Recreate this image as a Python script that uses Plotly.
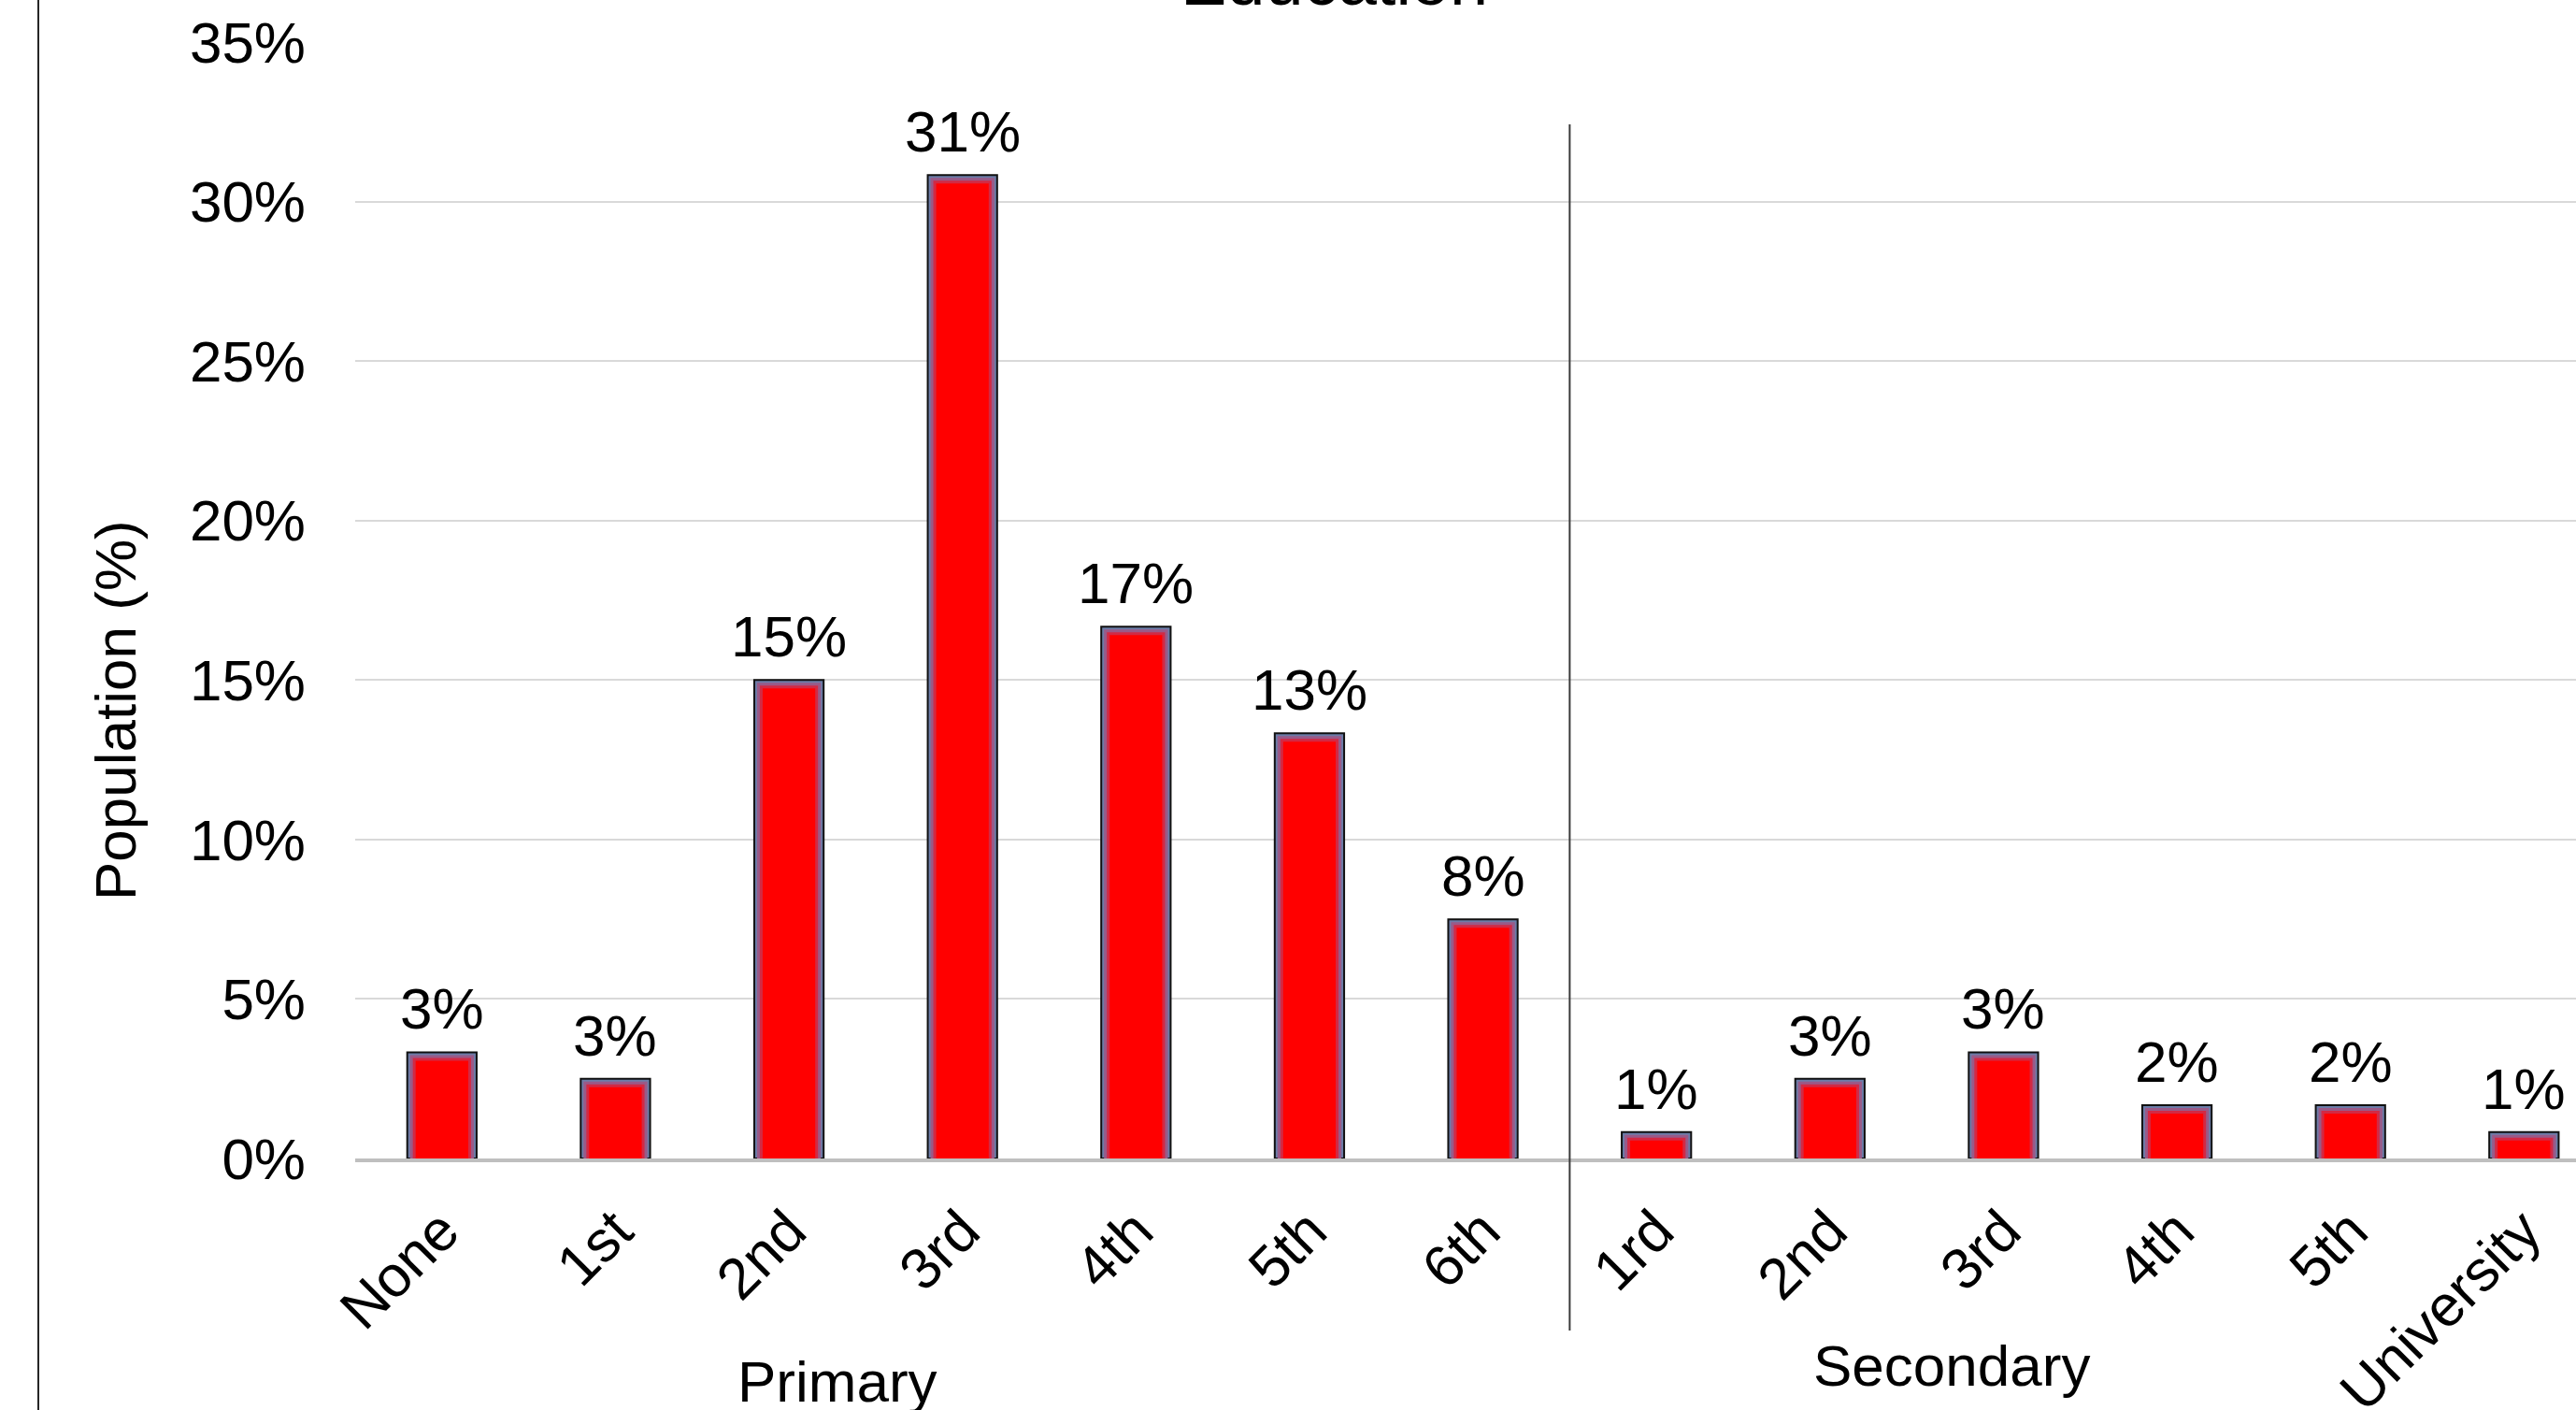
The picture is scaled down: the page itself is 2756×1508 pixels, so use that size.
import math
import plotly.graph_objects as go

# ---- data ----
categories = ["None", "1st", "2nd", "3rd", "4th", "5th", "6th",
              "1rd", "2nd", "3rd", "4th", "5th", "University"]
population_pct = [3.33, 2.50, 15.00, 30.83, 16.67, 13.33, 7.50,
                  0.83, 2.50, 3.33, 1.67, 1.67, 0.83]
groups = ["Primary", "Secondary"]
y_ticks = [0, 5, 10, 15, 20, 25, 30, 35]
title_text = "Education"
y_title = "Population (%)"

FONT = "Liberation Sans, Arial, sans-serif"
W, H = 2756, 1508
ML, MR, MT, MB = 380, 0, 45, 269
PW, PH = W - ML - MR, H - MT - MB

def px_to_paper_x(px):
    return (px - ML) / PW

def px_to_paper_y(py):
    return (H - MB - py) / PH

x = list(range(len(categories)))
labels = [f"{int(math.floor(v + 0.5))}%" for v in population_pct]

fig = go.Figure()

# layered bars to imitate the soft inner glow of the original
bar_w = 0.40
px_per_unit = PW / 12.80
px_per_pct = PH / 35.0
layers = [("#6c7ca8", 0.0, dict(color="#111111", width=2)),
          ("#9a5a88", 3.0, dict(width=0)),
          ("#d22a44", 6.0, dict(width=0)),
          ("#ff0000", 9.0, dict(width=0))]
for color, inset, line in layers:
    dw = 2 * inset / px_per_unit
    dh = inset / px_per_pct
    fig.add_trace(go.Bar(
        x=x, y=[max(v - dh, 0) for v in population_pct],
        width=bar_w - dw,
        marker=dict(color=color, line=line),
        hoverinfo="skip" if inset else None,
        showlegend=False,
    ))

annotations = []
for xi, v, lab in zip(x, population_pct, labels):
    annotations.append(dict(x=xi, y=v, xref="x", yref="y", text=lab,
                            showarrow=False, xanchor="center", yanchor="bottom", yshift=10,
                            font=dict(size=62, color="black", family=FONT)))

# title (cut off at top like the reference)
annotations.append(dict(x=px_to_paper_x(1427), y=px_to_paper_y(23), xref="paper", yref="paper",
                        text=title_text, showarrow=False, xanchor="center", yanchor="bottom",
                        font=dict(size=74, color="black", family=FONT)))
# y-axis title
annotations.append(dict(x=px_to_paper_x(124), y=px_to_paper_y(760), xref="paper", yref="paper",
                        text=y_title, showarrow=False, textangle=-90,
                        xanchor="center", yanchor="middle",
                        font=dict(size=62, color="black", family=FONT)))
# group labels
annotations.append(dict(x=px_to_paper_x(896), y=px_to_paper_y(1477), xref="paper", yref="paper",
                        text=groups[0], showarrow=False, xanchor="center", yanchor="middle",
                        font=dict(size=62, color="black", family=FONT)))
annotations.append(dict(x=px_to_paper_x(2088), y=px_to_paper_y(1460), xref="paper", yref="paper",
                        text=groups[1], showarrow=False, xanchor="center", yanchor="middle",
                        font=dict(size=62, color="black", family=FONT)))

shapes = [
    # separator between groups
    dict(type="line", xref="x", yref="paper", x0=6.5, x1=6.5,
         y0=px_to_paper_y(1423), y1=px_to_paper_y(133),
         line=dict(color="#3a3a3a", width=2)),
    # left chart border
    dict(type="line", xref="paper", yref="paper",
         x0=px_to_paper_x(41), x1=px_to_paper_x(41),
         y0=px_to_paper_y(H + 5), y1=px_to_paper_y(-5),
         line=dict(color="#262626", width=2)),
]

fig.update_layout(
    width=W, height=H,
    margin=dict(l=ML, r=MR, t=MT, b=MB, pad=0, autoexpand=False),
    paper_bgcolor="white", plot_bgcolor="white",
    barmode="overlay",
    showlegend=False,
    font=dict(family=FONT, size=62, color="black"),
    annotations=annotations,
    shapes=shapes,
    xaxis=dict(
        range=[-0.5, 12.30], automargin=False,
        tickmode="array", tickvals=x, ticktext=categories,
        tickangle=-45, tickfont=dict(size=62, color="black", family=FONT),
        showgrid=False, zeroline=False,
        showline=True, linecolor="#bfbfbf", linewidth=4,
        ticks="", ticklabelstandoff=12,
    ),
    yaxis=dict(
        range=[0, 35], automargin=False, tickmode="array", tickvals=y_ticks,
        ticktext=[f"{t}%" for t in y_ticks],
        tickfont=dict(size=62, color="black", family=FONT),
        showgrid=True, gridcolor="#d9d9d9", gridwidth=2,
        zeroline=False, showline=False, ticks="",
        ticklabelstandoff=52,
    ),
)

fig.write_html("out.html")
